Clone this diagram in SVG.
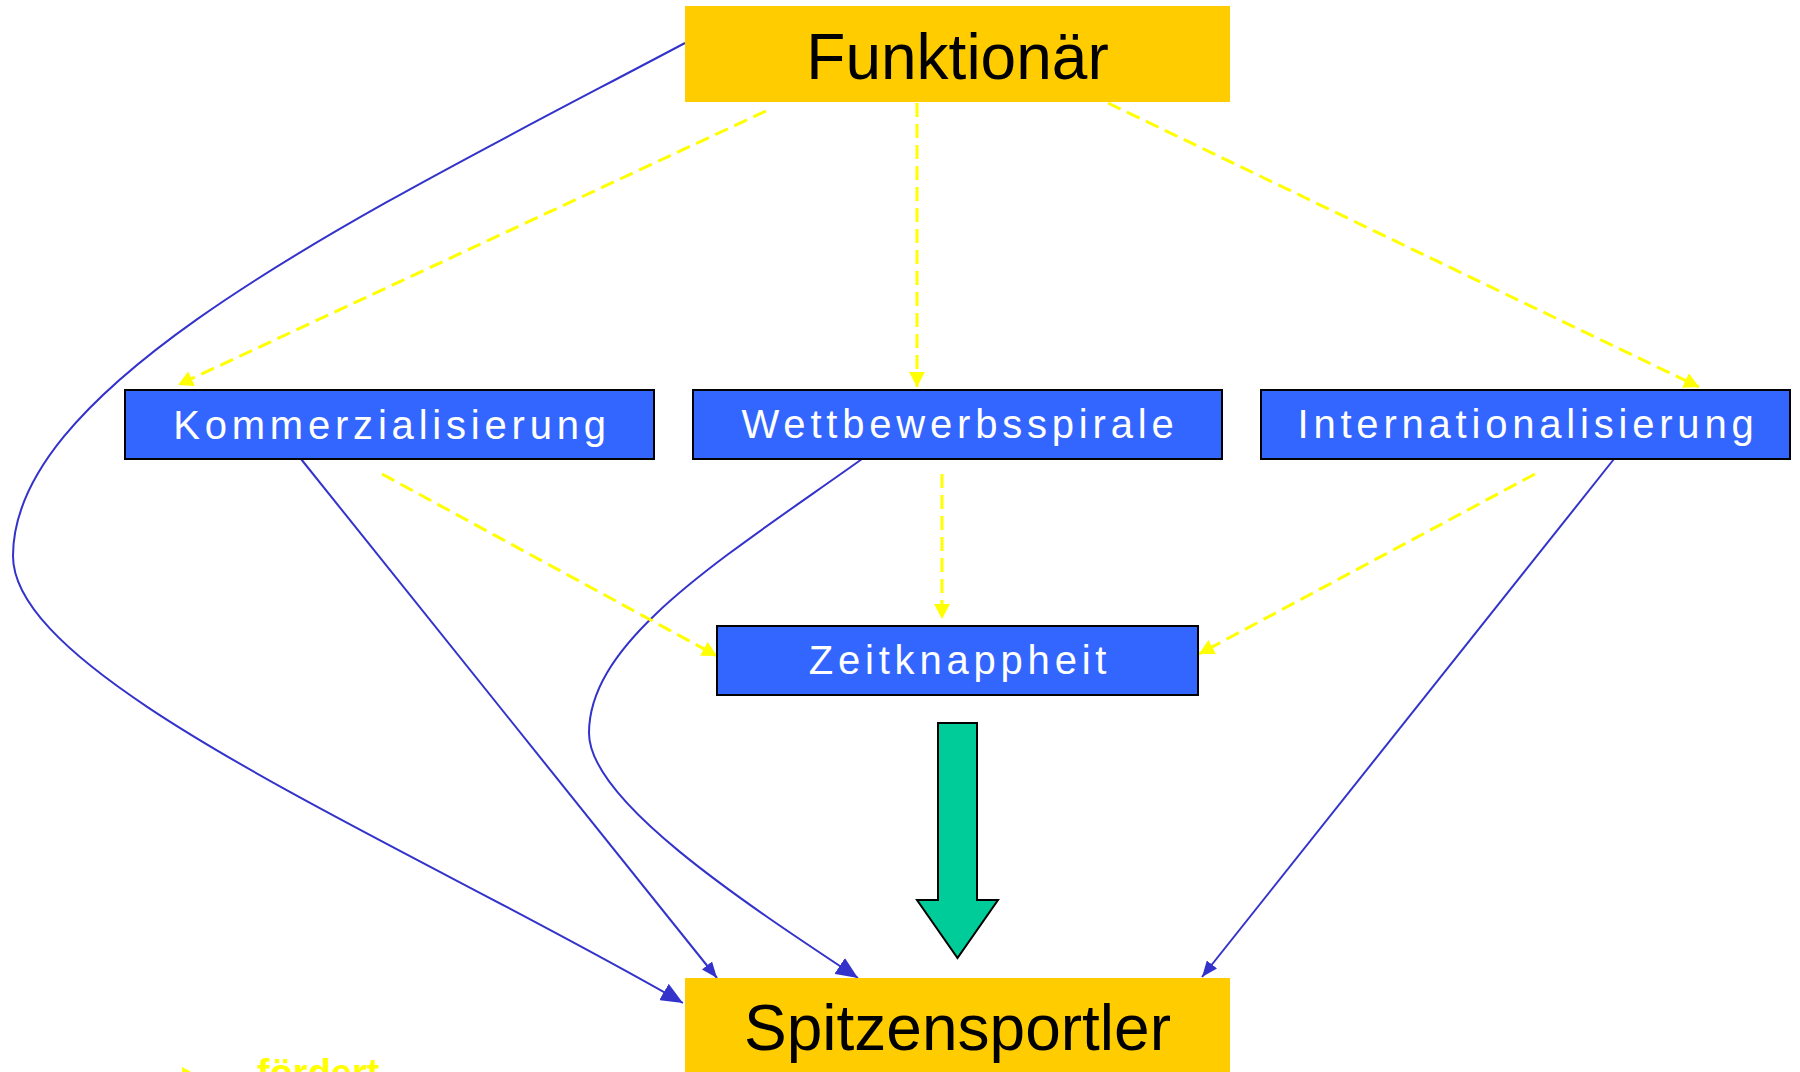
<svg xmlns="http://www.w3.org/2000/svg" width="1800" height="1072" viewBox="0 0 1800 1072">
<defs>
<style>
.yel{fill:#ffcc00;stroke:none}
.blu{fill:#3366ff;stroke:#000;stroke-width:2}
.big{font-family:"Liberation Sans",Arial,sans-serif;font-size:64px;fill:#000;text-anchor:middle}
.lbl{font-family:"Liberation Sans",Arial,sans-serif;font-size:40px;fill:#fff;text-anchor:middle;letter-spacing:4.8px}
.sol{fill:none;stroke:#3333cc;stroke-width:2}
.das{fill:none;stroke:#ffff00;stroke-width:3;stroke-dasharray:14 7}
</style>
<marker id="ay" markerUnits="userSpaceOnUse" markerWidth="15" markerHeight="16" refX="15" refY="8" orient="auto" viewBox="0 0 15 16"><path d="M0,0 L15,8 L0,16 z" fill="#ffff00"/></marker>
<marker id="abL" markerUnits="userSpaceOnUse" markerWidth="22" markerHeight="19" refX="22" refY="9.5" orient="auto" viewBox="0 0 22 19"><path d="M0,0 L22,9.5 L0,19 z" fill="#3333cc"/></marker>
<marker id="abS" markerUnits="userSpaceOnUse" markerWidth="16" markerHeight="13" refX="16" refY="6.5" orient="auto" viewBox="0 0 16 13"><path d="M0,0 L16,6.5 L0,13 z" fill="#3333cc"/></marker>
</defs>
<rect width="1800" height="1072" fill="#fff"/>
<g id="connectors">
<path class="sol" d="M685,43 C370,210 13,380 13,556 C13,680 400,840 683,1003" marker-end="url(#abL)"/>
<path class="sol" d="M301,459 L717,978" marker-end="url(#abS)"/>
<path class="sol" d="M862,459 C720,560 589,640 589,733 C589,800 740,900 858,978" marker-end="url(#abL)"/>
<path class="sol" d="M1614,459 L1202,977" marker-end="url(#abS)"/>
<path class="das" d="M766,111 L178,385" marker-end="url(#ay)"/>
<path class="das" d="M917,103 L917,387" marker-end="url(#ay)"/>
<path class="das" d="M1108,103 L1699,387" marker-end="url(#ay)"/>
<path class="das" d="M382,474 L717,656" marker-end="url(#ay)"/>
<path class="das" d="M942,474 L942,619" marker-end="url(#ay)"/>
<path class="das" d="M1535,474 L1199,654" marker-end="url(#ay)"/>
<polygon id="bigarrow" points="938,723 977,723 977,900 998,900 957.5,958 917,900 938,900" fill="#00cc99" stroke="#000" stroke-width="2"/>
</g>
<g id="funktionaer"><rect class="yel" x="685" y="6" width="545" height="96"/><text class="big" x="957.5" y="79">Funktionär</text></g>
<g id="kommerzialisierung"><rect class="blu" x="125" y="390" width="529" height="69"/><text class="lbl" x="392" y="439">Kommerzialisierung</text></g>
<g id="wettbewerbsspirale"><rect class="blu" x="693" y="390" width="529" height="69"/><text class="lbl" x="960" y="438">Wettbewerbsspirale</text></g>
<g id="internationalisierung"><rect class="blu" x="1261" y="390" width="529" height="69"/><text class="lbl" x="1528" y="438">Internationalisierung</text></g>
<g id="zeitknappheit"><rect class="blu" x="717" y="626" width="481" height="69"/><text class="lbl" x="960" y="674">Zeitknappheit</text></g>
<g id="spitzensportler"><rect class="yel" x="685" y="978" width="545" height="100"/><text class="big" x="957.5" y="1050">Spitzensportler</text></g>
<g id="legend">
<path class="das" d="M110,1075 L197,1075" marker-end="url(#ay)"/>
<text x="257" y="1086" font-family="Liberation Sans, Arial, sans-serif" font-size="38" font-weight="bold" fill="#ffff00">fördert</text>
</g>
</svg>
